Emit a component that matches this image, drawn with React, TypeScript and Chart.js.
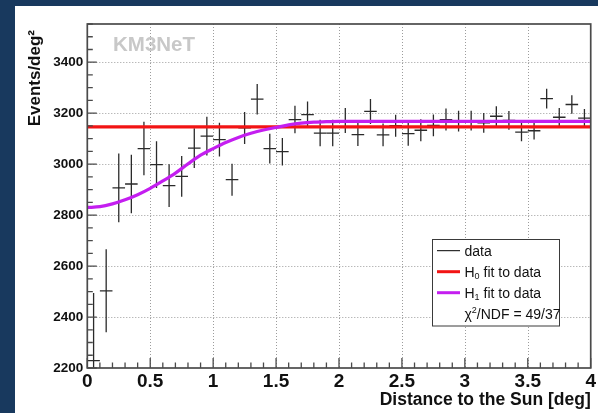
import React, { useEffect, useRef } from "react";
import { Chart, registerables } from "chart.js";

Chart.register(...registerables);

// Angular distance bins (centres, degrees); each bin is 0.1 deg wide
const binCenters = [
  0.05, 0.15, 0.25, 0.35, 0.45, 0.55, 0.65, 0.75, 0.85, 0.95,
  1.05, 1.15, 1.25, 1.35, 1.45, 1.55, 1.65, 1.75, 1.85, 1.95,
  2.05, 2.15, 2.25, 2.35, 2.45, 2.55, 2.65, 2.75, 2.85, 2.95,
  3.05, 3.15, 3.25, 3.35, 3.45, 3.55, 3.65, 3.75, 3.85, 3.95,
];
const binWidth = 0.1;

// Measured event density (events / deg^2) and its statistical uncertainty
const eventsPerDeg2 = [
  2229, 2503, 2907, 2922, 3061, 2998, 2916, 2952, 3063, 3110,
  3096, 2939, 3142, 3255, 3061, 3049, 3175, 3194, 3122, 3122,
  3171, 3116, 3207, 3115, 3151, 3120, 3133, 3152, 3175, 3169,
  3171, 3162, 3188, 3172, 3126, 3131, 3257, 3184, 3234, 3181,
];
const eventsErr = [
  265, 163, 135, 115, 105, 92, 84, 80, 78, 76,
  66, 63, 63, 60, 58, 54, 54, 52, 52, 52,
  49, 45, 49, 45, 43, 48, 43, 43, 43, 41,
  39, 39, 39, 37, 36, 34, 39, 36, 36, 35,
];

// H0: flat background fit
const h0X = [0, 4];
const h0Y = [3146, 3146];

// H1: background with the Sun shadow deficit
const h1X = [0, 0.1, 0.2, 0.3, 0.4, 0.5, 0.6, 0.7, 0.8, 0.9, 1.0, 1.1, 1.2, 1.3, 1.4, 1.5, 1.6, 1.7, 1.8, 1.9, 2.0, 2.5, 3.0, 3.5, 4.0];
const h1Y = [2830, 2833, 2844, 2860, 2880, 2905, 2934, 2965, 3001, 3035, 3061, 3085, 3105, 3121, 3134, 3144, 3154, 3161, 3165, 3167, 3168, 3168, 3168, 3168, 3168];

// Axes
const xMin = 0;
const xMax = 4;
const yMin = 2200;
const yMax = 3550;
const xMajor = [0, 0.5, 1, 1.5, 2, 2.5, 3, 3.5, 4];
const xMinorStep = 0.1;
const yMajor = [2200, 2400, 2600, 2800, 3000, 3200, 3400];
const yMinorStep = 50;

const xTitle = "Distance to the Sun [deg]";
const yTitle = "Events/deg²";
const experimentLabel = "KM3NeT";
const legendData = "data";
const legendH0 = ["H", "0", " fit to data"];
const legendH1 = ["H", "1", " fit to data"];
const legendChi = ["χ", "2", "/NDF = 49/37"];

const FONT = "'Liberation Sans', Arial, Helvetica, sans-serif";
const NAVY = "#18395e";
const RED = "#f21414";
const VIOLET = "#c41ef0";
const FRAME = "#4a4a4a";
const INK = "#111111";

const rootStyle = {
  id: "rootStyle",
  beforeDraw(chart: any) {
    const { ctx, width, height } = chart;
    ctx.save();
    ctx.fillStyle = NAVY;
    ctx.fillRect(0, 0, width, height);
    ctx.fillStyle = "#ffffff";
    ctx.fillRect(15, 6, width - 15, height - 6);
    ctx.restore();
  },
  beforeDatasetsDraw(chart: any) {
    const { ctx, chartArea: a, scales } = chart;
    const x = scales.x;
    const y = scales.y;
    ctx.save();
    // dotted grid at the major ticks
    ctx.strokeStyle = "#9c9c9c";
    ctx.lineWidth = 1;
    ctx.setLineDash([1, 2]);
    xMajor.forEach((v) => {
      if (v <= xMin || v >= xMax) return;
      const px = Math.round(x.getPixelForValue(v)) + 0.5;
      ctx.beginPath();
      ctx.moveTo(px, a.top);
      ctx.lineTo(px, a.bottom);
      ctx.stroke();
    });
    yMajor.forEach((v) => {
      if (v <= yMin || v >= yMax) return;
      const py = Math.round(y.getPixelForValue(v)) + 0.5;
      ctx.beginPath();
      ctx.moveTo(a.left, py);
      ctx.lineTo(a.right, py);
      ctx.stroke();
    });
    ctx.setLineDash([]);

    // data points with error crosses
    ctx.beginPath();
    ctx.rect(a.left, a.top, a.right - a.left, a.bottom - a.top);
    ctx.clip();
    ctx.strokeStyle = "#2a2a2a";
    ctx.lineWidth = 1.3;
    binCenters.forEach((c, i) => {
      const v = eventsPerDeg2[i];
      const e = eventsErr[i];
      const px = x.getPixelForValue(c);
      const x0 = x.getPixelForValue(c - binWidth / 2);
      const x1 = x.getPixelForValue(c + binWidth / 2);
      const py = y.getPixelForValue(v);
      ctx.beginPath();
      ctx.moveTo(x0, py);
      ctx.lineTo(x1, py);
      ctx.moveTo(px, y.getPixelForValue(v + e));
      ctx.lineTo(px, y.getPixelForValue(v - e));
      ctx.stroke();
    });
    ctx.restore();
  },
  afterDatasetsDraw(chart: any) {
    const { ctx, chartArea: a, scales } = chart;
    const x = scales.x;
    const y = scales.y;
    ctx.save();

    // frame
    ctx.strokeStyle = FRAME;
    ctx.lineWidth = 1.7;
    ctx.strokeRect(a.left, a.top, a.right - a.left, a.bottom - a.top);

    // inward ticks on the bottom axis
    ctx.lineWidth = 1.3;
    ctx.beginPath();
    for (let k = 0; xMin + k * xMinorStep <= xMax + 1e-9; k++) {
      const v = xMin + k * xMinorStep;
      const major = xMajor.some((m) => Math.abs(m - v) < 1e-6);
      const px = x.getPixelForValue(v);
      ctx.moveTo(px, a.bottom);
      ctx.lineTo(px, a.bottom - (major ? 10 : 5.5));
    }
    // inward ticks on the left axis
    for (let k = 0; yMin + k * yMinorStep <= yMax + 1e-9; k++) {
      const v = yMin + k * yMinorStep;
      const major = yMajor.includes(v);
      const py = y.getPixelForValue(v);
      ctx.moveTo(a.left, py);
      ctx.lineTo(a.left + (major ? 9.5 : 5.5), py);
    }
    ctx.stroke();

    // vertical axis title
    ctx.save();
    ctx.translate(35.5, 30);
    ctx.rotate(-Math.PI / 2);
    ctx.fillStyle = INK;
    ctx.font = `bold 17px ${FONT}`;
    ctx.textAlign = "right";
    ctx.textBaseline = "middle";
    ctx.fillText(yTitle, 0, 0);
    ctx.restore();

    // experiment label
    ctx.fillStyle = "#c8c8c8";
    ctx.font = `bold 20.5px ${FONT}`;
    ctx.textBaseline = "alphabetic";
    ctx.textAlign = "left";
    ctx.fillText(experimentLabel, 113, 50.7);

    // legend box
    const bx = 432.5;
    const by = 239.5;
    const bw = 127;
    const bh = 86.5;
    ctx.fillStyle = "#ffffff";
    ctx.fillRect(bx, by, bw, bh);
    ctx.strokeStyle = "#3a3a3a";
    ctx.lineWidth = 1;
    ctx.strokeRect(bx, by, bw, bh);

    const rows = [250.7, 271.7, 292.7, 313.5];
    const sx0 = 437;
    const sx1 = 460;
    const tx = 464.5;
    const samples = [
      { color: "#000000", w: 1 },
      { color: RED, w: 3 },
      { color: VIOLET, w: 3 },
    ];
    samples.forEach((s, i) => {
      ctx.strokeStyle = s.color;
      ctx.lineWidth = s.w;
      ctx.beginPath();
      ctx.moveTo(sx0, rows[i]);
      ctx.lineTo(sx1, rows[i]);
      ctx.stroke();
    });

    const big = `14px ${FONT}`;
    const small = `9px ${FONT}`;
    ctx.fillStyle = INK;
    ctx.textBaseline = "alphabetic";
    const base = (r: number) => r + 5;
    ctx.font = big;
    ctx.fillText(legendData, tx, base(rows[0]));

    const drawScripted = (parts: string[], r: number, shift: number) => {
      let cx = tx;
      ctx.font = big;
      ctx.fillText(parts[0], cx, base(r));
      cx += ctx.measureText(parts[0]).width;
      ctx.font = small;
      ctx.fillText(parts[1], cx, base(r) + shift);
      cx += ctx.measureText(parts[1]).width;
      ctx.font = big;
      ctx.fillText(parts[2], cx, base(r));
    };
    drawScripted(legendH0, rows[1], 2.5);
    drawScripted(legendH1, rows[2], 2.5);
    drawScripted(legendChi, rows[3], -6);

    ctx.restore();
  },
};

export default function App() {
  const canvasRef = useRef<HTMLCanvasElement | null>(null);

  useEffect(() => {
    const canvas = canvasRef.current;
    if (!canvas) return;
    const chart = new Chart(canvas, {
      type: "scatter",
      data: {
        datasets: [
          {
            type: "line",
            label: "H1 fit to data",
            data: h1X.map((v, i) => ({ x: v, y: h1Y[i] })),
            borderColor: VIOLET,
            borderWidth: 3.2,
            pointRadius: 0,
            fill: false,
            cubicInterpolationMode: "monotone",
          },
          {
            type: "line",
            label: "H0 fit to data",
            data: h0X.map((v, i) => ({ x: v, y: h0Y[i] })),
            borderColor: RED,
            borderWidth: 3.2,
            pointRadius: 0,
            fill: false,
          },
          {
            label: "data",
            data: binCenters.map((v, i) => ({ x: v, y: eventsPerDeg2[i] })),
            pointRadius: 0,
            showLine: false,
            borderColor: "#000000",
          },
        ],
      } as any,
      options: {
        animation: false,
        responsive: false,
        maintainAspectRatio: false,
        devicePixelRatio: 1,
        events: [],
        layout: { padding: { left: 0, top: 24, right: 6.5, bottom: 0 } },
        plugins: {
          legend: { display: false },
          tooltip: { enabled: false },
          title: { display: false },
        },
        scales: {
          x: {
            type: "linear",
            position: "bottom",
            min: xMin,
            max: xMax,
            afterBuildTicks: (s: any) => {
              s.ticks = xMajor.map((v) => ({ value: v }));
            },
            afterFit: (s: any) => {
              s.height = 45;
            },
            grid: { display: false, drawTicks: false },
            border: { display: false },
            ticks: {
              autoSkip: false,
              maxRotation: 0,
              padding: 2,
              color: INK,
              font: { family: FONT, size: 19, weight: "bold" },
              callback: (v: any) => String(v),
            },
            title: {
              display: true,
              text: xTitle,
              align: "end",
              color: INK,
              font: { family: FONT, size: 17.5, weight: "bold" },
              padding: { top: 0, bottom: 2.5 },
            },
          },
          y: {
            type: "linear",
            position: "left",
            min: yMin,
            max: yMax,
            afterBuildTicks: (s: any) => {
              s.ticks = yMajor.map((v) => ({ value: v }));
            },
            afterFit: (s: any) => {
              s.width = 87.3;
            },
            grid: { display: false, drawTicks: false },
            border: { display: false },
            ticks: {
              padding: 4,
              color: INK,
              font: { family: FONT, size: 13.5, weight: "bold" },
              callback: (v: any) => String(v),
            },
            title: { display: false },
          },
        },
      } as any,
      plugins: [rootStyle],
    });
    return () => chart.destroy();
  }, []);

  return (
    <div style={{ position: "fixed", left: 0, top: 0, width: 598, height: 413 }}>
      <canvas ref={canvasRef} width={598} height={413} style={{ display: "block" }} />
    </div>
  );
}
